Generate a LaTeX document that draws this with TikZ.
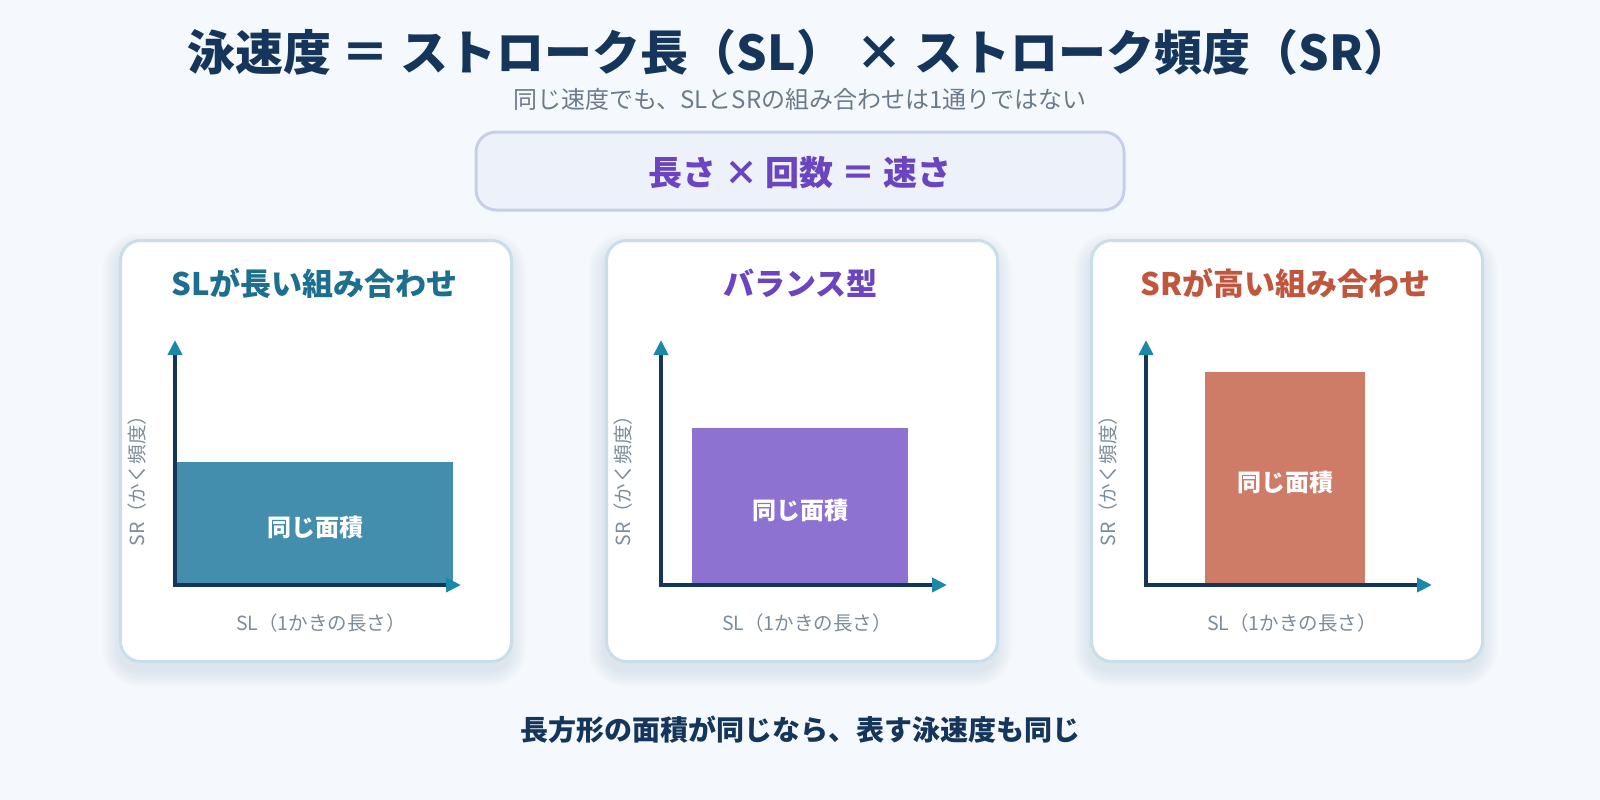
\documentclass[tikz,border=0pt]{standalone}
\usepackage{fontspec}
\setmainfont{Noto Sans CJK JP}
\usetikzlibrary{arrows.meta}
\definecolor{pagebg}{HTML}{F5F9FD}
\definecolor{navy}{HTML}{15365A}
\definecolor{subgray}{HTML}{6B7B8C}
\definecolor{axgray}{HTML}{7D8C9B}
\definecolor{tealhead}{HTML}{1A88A8}
\definecolor{cardborder}{HTML}{C9DEE8}
\definecolor{fbox}{HTML}{EDF2FA}
\definecolor{fboxborder}{HTML}{C6CFEA}
\definecolor{purp}{HTML}{6B44C0}
\definecolor{tealtitle}{HTML}{1C6F8E}
\definecolor{redtitle}{HTML}{C0563E}
\definecolor{rectA}{HTML}{2F82A3}
\definecolor{rectB}{HTML}{8263CC}
\definecolor{rectC}{HTML}{C96D58}
\definecolor{shadowc}{HTML}{8FA8C0}
\tikzset{
  fs/.style={font=\fontsize{#1}{#1}\selectfont},
  fsb/.style={font=\fontsize{#1}{#1}\selectfont\bfseries},
  card/.style={draw=cardborder, line width=3pt, fill=white, rounded corners=20pt},
  cardshadow/.style={fill=shadowc, opacity=0.028},
  axisline/.style={draw=navy, line width=4pt, -{Triangle[length=15pt,width=14pt,color=tealhead,fill=tealhead]}},
  area/.style={fill=#1, fill opacity=0.9},
  arealabel/.style={text=white, fsb=24},
  axlabel/.style={text=axgray, fs=19.5},
  cardtitle/.style={fsb=31, text=#1},
}
\begin{document}
\begin{tikzpicture}[x=1pt,y=-1pt]
\fill[pagebg] (0,0) rectangle (1600,800);
\useasboundingbox (0,0) rectangle (1600,800);

% header
\node[fsb=48, text=navy] (title) at (799,52) {泳速度 ＝ ストローク長（SL） × ストローク頻度（SR）};
\node[fs=24, text=subgray] (sub) at (800,99) {同じ速度でも、SLとSRの組み合わせは1通りではない};
\node[draw=fboxborder, line width=3pt, fill=fbox, rounded corners=20pt, minimum width=648pt, minimum height=78pt] (formula) at (800,171) {};
\node[fsb=34, text=purp] (formulatext) at (800,173) {長さ × 回数 ＝ 速さ};

% cards: left x, name, title colour, rect colour, rect left rel, rect right rel, rect top, title
\foreach \cx/\name/\tcol/\rcol/\ra/\rb/\rt/\tt in {
  119/A/tealtitle/rectA/58/334/462/{SLが長い組み合わせ},
  605/B/purp/rectB/87/303/428/{バランス型},
  1090/C/redtitle/rectC/115/275/372/{SRが高い組み合わせ}} {
  \begin{scope}[shift={(\cx,0)}]
    \foreach \s in {2,4,...,16} {
      \fill[cardshadow, rounded corners={20pt+\s pt}] (-\s,{239+10-\s}) rectangle ({391+\s},{660+10+\s});
    }
    \node[card, minimum width=391pt, minimum height=421pt, anchor=north west] (card\name) at (0,239) {};
    \node[cardtitle=\tcol] (title\name) at (195.5,283) {\tt};
    \fill[area=\rcol] (\ra,\rt) rectangle (\rb,587);
    \coordinate (o\name) at (56,585);
    \coordinate (ytip\name) at (56,340);
    \coordinate (xtip\name) at (342,585);
    \draw[axisline] ([yshift=2pt]o\name) -- (ytip\name);
    \draw[axisline] ([xshift=-2pt]o\name) -- (xtip\name);
    \node[arealabel] (lab\name) at ({(\ra+\rb)/2},{(\rt+587)/2+3}) {同じ面積};
    \node[axlabel, rotate=90] (ylab\name) at (18,476) {SR（かく頻度）};
    \node[axlabel] (xlab\name) at (202,623) {SL（1かきの長さ）};
  \end{scope}
}

\node[fsb=28, text=navy] (foot) at (800,730) {長方形の面積が同じなら、表す泳速度も同じ};
\end{tikzpicture}
\end{document}
